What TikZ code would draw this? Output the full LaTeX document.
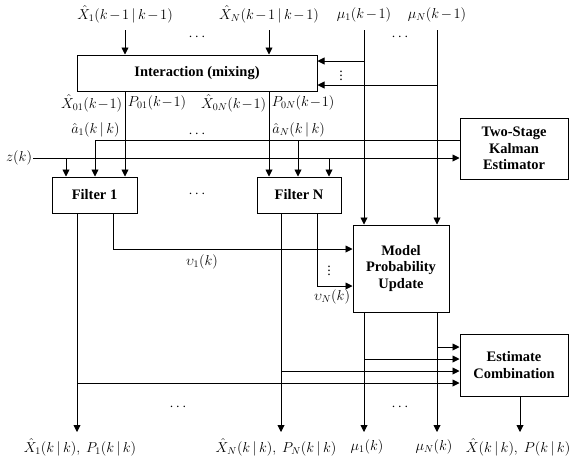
\documentclass[tikz,border=0pt]{standalone}
\usepackage{fontspec}
\setmainfont{Liberation Serif}
\usetikzlibrary{arrows.meta}
\newcommand\lblfont{\fontsize{14}{16}\selectfont\medmuskip=2mu\relax}
\newcommand\midfont{\fontsize{14}{16}\selectfont\medmuskip=1mu\relax}
\begin{document}
\begin{tikzpicture}[x=1pt,y=-1pt,line width=0.9pt,
  box/.style={draw, line width=1pt, align=center, inner sep=0pt, font=\fontsize{14.5}{16.5}\selectfont\bfseries},
  lbl/.style={inner sep=1pt, font=\lblfont},
  midlbl/.style={inner sep=0.5pt, font=\midfont},
  arr/.style={-{Triangle[length=7pt,width=7pt]}}]
\useasboundingbox (0,0) rectangle (572,459);

% Draw the boxes
\node[box, minimum width=240pt, minimum height=36pt] (mix) at (197,73) {Interaction (mixing)};
\node[box, minimum width=85pt, minimum height=36pt] (f1) at (94.5,195) {Filter 1};
\node[box, minimum width=84pt, minimum height=36pt] (fN) at (299,195) {Filter N};
\node[box, minimum width=96pt, minimum height=87pt] (mpu) at (401,268.5) {Model\\Probability\\Update};
\node[box, minimum width=108pt, minimum height=61pt] (tske) at (514,148.5) {Two-Stage\\Kalman\\Estimator};
\node[box, minimum width=108pt, minimum height=62pt] (ec) at (514,365) {Estimate\\Combination};

% Inputs at the top
\node[lbl] (lx1) at (125,14) {$\hat{X}_1(k-1\,|\,k-1)$};
\node[lbl] (lxN) at (269,14) {$\hat{X}_N(k-1\,|\,k-1)$};
\node[lbl] (lmu1) at (364,15) {$\mu_1(k-1)$};
\node[lbl] (lmuN) at (437,15) {$\mu_N(k-1)$};
\coordinate (x1) at (125,30);
\coordinate (xN) at (269,30);
\coordinate (mu1) at (364,30);
\coordinate (muN) at (437,30);
\draw[arr] (x1) -- (x1 |- mix.north);
\draw[arr] (xN) -- (xN |- mix.north);
\draw[arr] (mu1) -- (mu1 |- mpu.north);
\draw[arr] (muN) -- (muN |- mpu.north);
\coordinate (mu1mix) at (364,61);
\coordinate (muNmix) at (437,85);
\draw[arr] (mu1mix) -- (mu1mix -| mix.east);
\draw[arr] (muNmix) -- (muNmix -| mix.east);
\node[lbl] (vd1) at (341,73) {$\vdots$};

% Mixing outputs
\draw[arr] (x1 |- mix.south) -- (x1 |- f1.north);
\draw[arr] (xN |- mix.south) -- (xN |- fN.north);
\node[midlbl, anchor=east] (lx01) at (123,103) {$\hat{X}_{01}(k-1)$};
\node[midlbl, anchor=west] (lp01) at (127,103) {$P_{01}(k-1)$};
\node[midlbl, anchor=east] (lx0N) at (267,103) {$\hat{X}_{0N}(k-1)$};
\node[midlbl, anchor=west] (lp0N) at (271,103) {$P_{0N}(k-1)$};

% Two-stage estimator outputs
\node[lbl, anchor=east] (la1) at (121,130) {$\hat{a}_1(k\,|\,k)$};
\node[lbl, anchor=west] (laN) at (271,130) {$\hat{a}_N(k\,|\,k)$};
\coordinate (a1) at (95,140);
\coordinate (aN) at (298,140);
\draw[arr] (a1 -| tske.west) -- (a1) -- (a1 |- f1.north);
\draw[arr] (aN) -- (aN |- fN.north);

% Measurement z(k)
\node[lbl] (zk) at (19,158) {$z(k)$};
\coordinate (z1) at (66,158);
\coordinate (zN) at (329,158);
\draw[arr] (zk.east) -- (zk.east -| tske.west);
\draw[arr] (z1) -- (z1 |- f1.north);
\draw[arr] (zN) -- (zN |- fN.north);

% Filter outputs
\coordinate (o1) at (77,432);
\coordinate (oN) at (281,432);
\draw[arr] (o1 |- f1.south) -- (o1);
\draw[arr] (oN |- fN.south) -- (oN);
\coordinate (v1) at (113,249);
\coordinate (vN) at (317,286);
\draw[arr] (v1 |- f1.south) -- (v1) -- (v1 -| mpu.west);
\draw[arr] (vN |- fN.south) -- (vN) -- (vN -| mpu.west);
\node[lbl] (lv1) at (202,262) {$\upsilon_1(k)$};
\node[lbl] (lvN) at (332,297) {$\upsilon_N(k)$};
\node[lbl] (vd2) at (329,268) {$\vdots$};

% Model probability outputs
\coordinate (u1) at (364,432);
\coordinate (uN) at (437,432);
\draw[arr] (u1 |- mpu.south) -- (u1);
\draw[arr] (uN |- mpu.south) -- (uN);

% Inputs of the combination
\coordinate (e4) at (437,347);
\coordinate (e3) at (364,359);
\coordinate (e2) at (281,371);
\coordinate (e1) at (77,383);
\draw[arr] (e4) -- (e4 -| ec.west);
\draw[arr] (e3) -- (e3 -| ec.west);
\draw[arr] (e2) -- (e2 -| ec.west);
\draw[arr] (e1) -- (e1 -| ec.west);
\coordinate (eo) at (520,432);
\draw[arr] (eo |- ec.south) -- (eo);

% Output labels
\node[lbl] (lo1) at (80,447) {$\hat{X}_1(k\,|\,k),\ P_1(k\,|\,k)$};
\node[lbl] (loN) at (276,447) {$\hat{X}_N(k\,|\,k),\ P_N(k\,|\,k)$};
\node[lbl] (lu1) at (367,447) {$\mu_1(k)$};
\node[lbl] (luN) at (434,447) {$\mu_N(k)$};
\node[lbl] (leo) at (518,447) {$\hat{X}(k\,|\,k),\ P(k\,|\,k)$};

% Dots
\node[lbl] (d1) at (197,37) {$\cdots$};
\node[lbl] (d2) at (400,37) {$\cdots$};
\node[lbl] (d3) at (197,134) {$\cdots$};
\node[lbl] (d4) at (197,194) {$\cdots$};
\node[lbl] (d5) at (178,407) {$\cdots$};
\node[lbl] (d6) at (400,407) {$\cdots$};
\end{tikzpicture}
\end{document}
